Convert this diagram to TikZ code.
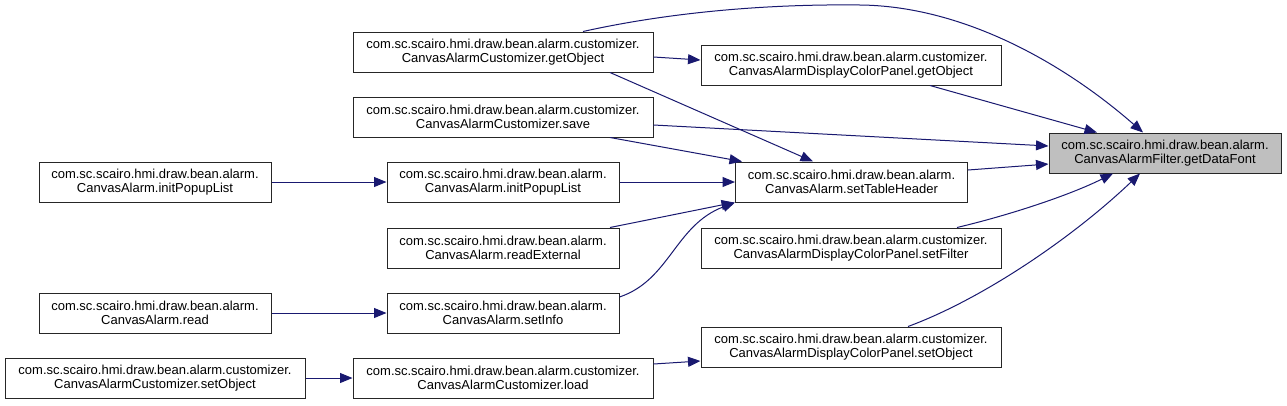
\documentclass[tikz,border=0pt]{standalone}
\usepackage{fontspec}
\setmainfont{Liberation Sans}
\usetikzlibrary{arrows.meta}
\definecolor{edgecol}{HTML}{191970}
\definecolor{rootfill}{HTML}{BFBFBF}
\begin{document}
\begin{tikzpicture}[x=1pt,y=-1pt,
  fn/.style={draw=black!85, line width=1pt, fill=white, minimum height=40pt, inner sep=0pt, align=center, font=\fontsize{13}{13.5}\selectfont},
  nw/.style={fn, minimum width=232pt},
  ww/.style={fn, minimum width=300pt},
  call/.style={draw=edgecol, line width=1pt, -{Triangle[length=12.5pt,width=10pt]}}]
\useasboundingbox[fill=white] (0,0) rectangle (1287,405);

\node[nw, fill=rootfill] (root) at (1165,153) {com.sc.scairo.hmi.draw.bean.alarm.\\CanvasAlarmFilter.getDataFont};

\node[nw] (left1) at (155,182) {com.sc.scairo.hmi.draw.bean.alarm.\\CanvasAlarm.initPopupList};
\node[nw] (read) at (155,313) {com.sc.scairo.hmi.draw.bean.alarm.\\CanvasAlarm.read};
\node[ww] (csetobj) at (155,378) {com.sc.scairo.hmi.draw.bean.alarm.customizer.\\CanvasAlarmCustomizer.setObject};

\node[ww] (cgetobj) at (503,52) {com.sc.scairo.hmi.draw.bean.alarm.customizer.\\CanvasAlarmCustomizer.getObject};
\node[ww] (csave) at (503,117) {com.sc.scairo.hmi.draw.bean.alarm.customizer.\\CanvasAlarmCustomizer.save};
\node[nw] (initpl) at (503,182) {com.sc.scairo.hmi.draw.bean.alarm.\\CanvasAlarm.initPopupList};
\node[nw] (readext) at (503,248) {com.sc.scairo.hmi.draw.bean.alarm.\\CanvasAlarm.readExternal};
\node[nw] (setinfo) at (503,313) {com.sc.scairo.hmi.draw.bean.alarm.\\CanvasAlarm.setInfo};
\node[ww] (load) at (503,378) {com.sc.scairo.hmi.draw.bean.alarm.customizer.\\CanvasAlarmCustomizer.load};

\node[ww] (dgetobj) at (851,65) {com.sc.scairo.hmi.draw.bean.alarm.customizer.\\CanvasAlarmDisplayColorPanel.getObject};
\node[nw] (setth) at (851.5,182) {com.sc.scairo.hmi.draw.bean.alarm.\\CanvasAlarm.setTableHeader};
\node[ww] (setfilter) at (851,248) {com.sc.scairo.hmi.draw.bean.alarm.customizer.\\CanvasAlarmDisplayColorPanel.setFilter};
\node[ww] (dsetobj) at (851,347) {com.sc.scairo.hmi.draw.bean.alarm.customizer.\\CanvasAlarmDisplayColorPanel.setObject};

\coordinate (top) at (860,5);

% edges
\draw[call] ([xshift=80pt]cgetobj.north) .. controls (680,10) and (780,4) .. (top)
   .. controls (960,6) and (1060,60) .. ([xshift=-22pt]root.north);
\draw[call] ([yshift=-5pt]cgetobj.east) -- ([yshift=5pt]dgetobj.west);
\draw[call] ([xshift=107pt]cgetobj.south) -- ([xshift=-38.5pt]setth.north);
\draw[call] ([xshift=79pt]dgetobj.south) -- ([xshift=-68pt]root.north);
\draw[call] ([yshift=-8pt]csave.east) -- ([yshift=7pt]root.west);
\draw[call] ([xshift=107pt]csave.south) -- ([xshift=7pt]setth.north west);
\draw[call] (initpl.east) -- (setth.west);
\draw[call] (left1.east) -- (initpl.west);
\draw[call] ([xshift=107pt]readext.north) -- ([xshift=-1pt]setth.south west);
\draw[call] ([yshift=16pt]setinfo.east) .. controls (670,280) and (675,225) .. (setth.south west);
\draw[call] ([yshift=12pt]setth.east) -- ([yshift=-11pt]root.west);
\draw[call] ([xshift=106pt]setfilter.north) .. controls (1010,215) and (1070,195) .. ([xshift=-52pt]root.south);
\draw[call] ([xshift=57pt]dsetobj.north) .. controls (980,300) and (1070,240) .. ([xshift=-25pt]root.south);
\draw[call] (read.east) -- (setinfo.west);
\draw[call] (csetobj.east) -- (load.west);
\draw[call] ([yshift=14pt]load.east) -- ([yshift=-14pt]dsetobj.west);
\end{tikzpicture}
\end{document}
